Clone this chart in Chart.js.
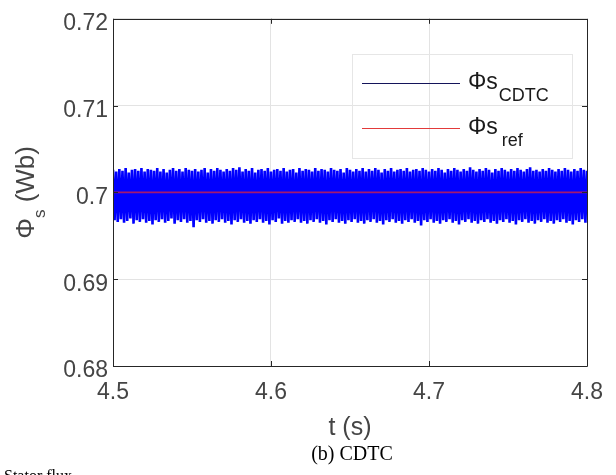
<!DOCTYPE html>
<html><head><meta charset="utf-8">
<script src="https://cdn.jsdelivr.net/npm/chart.js@4/dist/chart.umd.min.js"></script>
<style>html,body{margin:0;padding:0;background:#fff;overflow:hidden}canvas{display:block}</style>
</head><body>
<canvas id="c" width="616" height="475"></canvas>
<script>
// ---- data ----
const tStart = 4.5;
const tStep = 0.001;
const fluxCDTC = [
0.7026,0.6968,0.7024,0.6966,0.7027,0.6969,0.7025,0.6965,0.7028,0.6967,0.7023,0.6970,0.7026,0.6964,0.7027,0.6968,0.7025,0.6966,0.7028,0.6969,
0.7024,0.6965,0.7027,0.6967,0.7026,0.6963,0.7025,0.6968,0.7028,0.6966,0.7024,0.6969,0.7027,0.6965,0.7023,0.6967,0.7026,0.6970,0.7028,0.6964,
0.7025,0.6968,0.7027,0.6966,0.7024,0.6969,0.7028,0.6965,0.7026,0.6967,0.7025,0.6960,0.7027,0.6968,0.7024,0.6966,0.7026,0.6969,0.7028,0.6965,
0.7023,0.6967,0.7027,0.6964,0.7025,0.6968,0.7028,0.6966,0.7026,0.6969,0.7024,0.6965,0.7027,0.6967,0.7025,0.6963,0.7028,0.6968,0.7026,0.6966,
0.7029,0.6969,0.7024,0.6965,0.7027,0.6967,0.7025,0.6964,0.7028,0.6968,0.7023,0.6966,0.7026,0.6969,0.7027,0.6965,0.7025,0.6967,0.7028,0.6963,
0.7024,0.6968,0.7026,0.6966,0.7027,0.6970,0.7025,0.6964,0.7028,0.6967,0.7024,0.6965,0.7026,0.6968,0.7027,0.6966,0.7023,0.6969,0.7028,0.6965,
0.7025,0.6967,0.7027,0.6964,0.7026,0.6968,0.7024,0.6966,0.7028,0.6969,0.7025,0.6965,0.7027,0.6967,0.7026,0.6963,0.7024,0.6968,0.7028,0.6966,
0.7026,0.6969,0.7025,0.6965,0.7027,0.6967,0.7023,0.6964,0.7028,0.6968,0.7026,0.6966,0.7024,0.6969,0.7027,0.6965,0.7025,0.6967,0.7028,0.6964,
0.7024,0.6968,0.7027,0.6966,0.7025,0.6969,0.7028,0.6965,0.7026,0.6967,0.7023,0.6963,0.7027,0.6968,0.7025,0.6966,0.7028,0.6969,0.7024,0.6965,
0.7026,0.6967,0.7027,0.6964,0.7025,0.6968,0.7028,0.6966,0.7024,0.6969,0.7026,0.6965,0.7027,0.6967,0.7025,0.6962,0.7028,0.6968,0.7026,0.6966,
0.7024,0.6969,0.7027,0.6965,0.7025,0.6967,0.7028,0.6964,0.7026,0.6968,0.7023,0.6966,0.7027,0.6969,0.7025,0.6965,0.7028,0.6967,0.7026,0.6963,
0.7024,0.6968,0.7027,0.6966,0.7025,0.6969,0.7029,0.6965,0.7026,0.6967,0.7024,0.6964,0.7027,0.6968,0.7025,0.6966,0.7028,0.6969,0.7026,0.6965,
0.7023,0.6967,0.7027,0.6964,0.7025,0.6968,0.7028,0.6966,0.7026,0.6969,0.7024,0.6965,0.7027,0.6967,0.7025,0.6963,0.7028,0.6968,0.7026,0.6966,
0.7024,0.6969,0.7027,0.6965,0.7029,0.6967,0.7025,0.6964,0.7026,0.6968,0.7024,0.6966,0.7027,0.6969,0.7025,0.6965,0.7028,0.6967,0.7026,0.6964,
0.7024,0.6968,0.7027,0.6966,0.7025,0.6969,0.7028,0.6965,0.7026,0.6967,0.7024,0.6963,0.7027,0.6968,0.7025,0.6966,0.7028,0.6969,0.7026,0.6965,
0.7025
];
const refTimes = [4.5, 4.8];
const fluxRef = [0.7, 0.7];
const xTickLabels = ['4.5', '4.6', '4.7', '4.8'];
const yTickLabels = ['0.68', '0.69', '0.7', '0.71', '0.72'];
const legendMain = ['\u03A6s', '\u03A6s'];
const legendSub = ['CDTC', 'ref'];
const xTitle = 't (s)';
const yTitleMain = '\u03A6';
const yTitleSub = 's';
const yTitleRest = ' (Wb)';
const caption = '(b) CDTC';
const footText = 'Stator flux';

// ---- build ----
const cdtcPoints = fluxCDTC.map((v, i) => ({ x: tStart + i * tStep, y: v }));
const refPoints = fluxRef.map((v, i) => ({ x: refTimes[i], y: v }));

const SANS = '"Liberation Sans", Arial, Helvetica, sans-serif';
const SERIF = '"Liberation Serif", "Times New Roman", serif';
const AXIS_COLOR = '#262626';
const TEXT_COLOR = '#454545';

const decor = {
  id: 'decor',
  afterDatasetsDraw(chart) {
    const ctx = chart.ctx, a = chart.chartArea;
    const xs = chart.scales.x, ys = chart.scales.y;
    ctx.save();
    ctx.strokeStyle = AXIS_COLOR;
    ctx.lineWidth = 1;
    ctx.beginPath();
    ctx.rect(Math.round(a.left) + 0.5, Math.round(a.top) + 0.5, Math.round(a.right - a.left), Math.round(a.bottom - a.top));
    ctx.stroke();
    ctx.beginPath();
    xs.ticks.forEach(t => {
      const px = Math.round(xs.getPixelForValue(t.value)) + 0.5;
      ctx.moveTo(px, a.bottom); ctx.lineTo(px, a.bottom - 5);
      ctx.moveTo(px, a.top); ctx.lineTo(px, a.top + 5);
    });
    ys.ticks.forEach(t => {
      const py = Math.round(ys.getPixelForValue(t.value)) + 0.5;
      ctx.moveTo(a.left, py); ctx.lineTo(a.left + 5, py);
      ctx.moveTo(a.right, py); ctx.lineTo(a.right - 5, py);
    });
    ctx.stroke();
    ctx.restore();
  },
  afterDraw(chart) {
    const ctx = chart.ctx, a = chart.chartArea;
    ctx.save();
    // legend box
    ctx.strokeStyle = '#e6e6e6';
    ctx.lineWidth = 1;
    ctx.strokeRect(352.5, 54.5, 220, 104);
    const rows = [83, 128];
    const colors = ['#14145a', '#e23a3a'];
    rows.forEach((ry, i) => {
      ctx.strokeStyle = colors[i];
      ctx.lineWidth = 1.2;
      ctx.beginPath(); ctx.moveTo(362, ry + 0.5); ctx.lineTo(460, ry + 0.5); ctx.stroke();
      ctx.fillStyle = '#1a1a1a';
      ctx.textBaseline = 'alphabetic';
      ctx.textAlign = 'left';
      ctx.font = '23px ' + SANS;
      ctx.fillText(legendMain[i], 468, ry + 6);
      const w = ctx.measureText(legendMain[i]).width;
      ctx.font = '18px ' + SANS;
      ctx.fillText(legendSub[i], 468 + w + (i === 1 ? 4 : 1), ry + 18);
    });
    // x title
    ctx.fillStyle = TEXT_COLOR;
    ctx.font = '25px ' + SANS;
    ctx.textAlign = 'center';
    ctx.fillText(xTitle, (a.left + a.right) / 2, 435);
    // y title
    ctx.save();
    ctx.translate(34, (a.top + a.bottom) / 2);
    ctx.rotate(-Math.PI / 2);
    ctx.textAlign = 'left';
    ctx.font = '26px ' + SANS;
    const w1 = ctx.measureText(yTitleMain).width;
    const w3 = ctx.measureText(yTitleRest).width;
    ctx.font = '17px ' + SANS;
    const w2 = ctx.measureText(yTitleSub).width;
    let x0 = -(w1 + w2 + w3) / 2;
    ctx.font = '26px ' + SANS;
    ctx.fillText(yTitleMain, x0, 0);
    ctx.font = '17px ' + SANS;
    ctx.fillText(yTitleSub, x0 + w1, 11);
    ctx.font = '26px ' + SANS;
    ctx.fillText(yTitleRest, x0 + w1 + w2, 0);
    ctx.restore();
    // caption
    ctx.fillStyle = '#000';
    ctx.font = '20px ' + SERIF;
    ctx.textAlign = 'center';
    ctx.fillText(caption, 352, 460);
    ctx.textAlign = 'left';
    ctx.font = '16px ' + SERIF;
    ctx.fillText(footText, 4, 481);
    ctx.restore();
  }
};

new Chart(document.getElementById('c'), {
  type: 'line',
  data: {
    datasets: [
      { label: 'ref', data: refPoints, borderColor: '#a3186f', borderWidth: 1.6, pointRadius: 0, order: 0 },
      { label: 'CDTC', data: cdtcPoints, borderColor: '#0000ff', borderWidth: 2.6, pointRadius: 0, tension: 0, order: 1 }
    ]
  },
  options: {
    responsive: false,
    animation: false,
    devicePixelRatio: 1,
    layout: { padding: { left: 0, top: 14, right: 29, bottom: 0 } },
    plugins: { legend: { display: false }, tooltip: { enabled: false } },
    elements: { line: { borderJoinStyle: 'bevel' } },
    scales: {
      x: {
        type: 'linear', min: 4.5, max: 4.8,
        afterFit: s => { s.height = 109; },
        grid: { color: '#e3e3e3', drawTicks: false },
        border: { display: false },
        ticks: {
          stepSize: 0.1, padding: 13, color: TEXT_COLOR, font: { family: SANS, size: 23 },
          maxRotation: 0, autoSkip: false,
          callback: (v, i) => xTickLabels[i]
        }
      },
      y: {
        type: 'linear', min: 0.68, max: 0.72,
        afterFit: s => { s.width = 113; },
        grid: { color: '#e3e3e3', drawTicks: false },
        border: { display: false },
        ticks: {
          stepSize: 0.01, padding: 5, labelOffset: 5, color: TEXT_COLOR, font: { family: SANS, size: 23 },
          autoSkip: false,
          callback: (v, i) => yTickLabels[i]
        }
      }
    }
  },
  plugins: [decor]
});
</script>
</body></html>
